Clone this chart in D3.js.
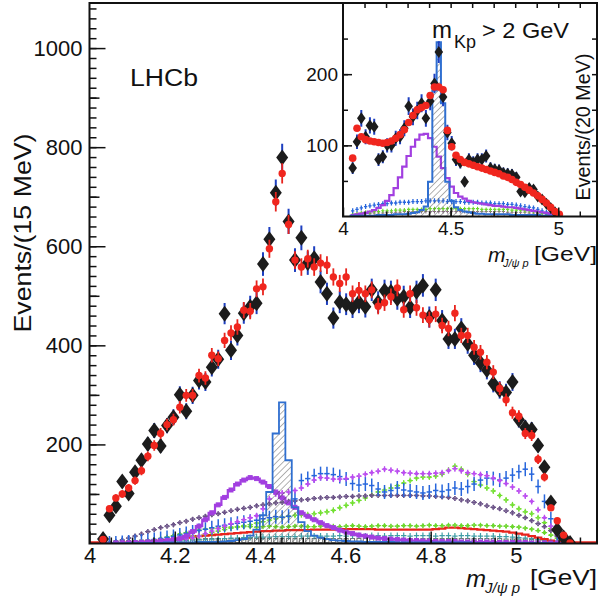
<!DOCTYPE html>
<html><head><meta charset="utf-8">
<script src="https://cdn.jsdelivr.net/npm/d3@7/dist/d3.min.js"></script>
<style>html,body{margin:0;padding:0;background:#fff;} svg{display:block}</style>
</head><body>
<svg id="chart" width="600" height="603"></svg>
<script>
// ---------------- data ----------------
const mainBinEdge0 = 4.0243;   // GeV, left edge of first 15 MeV bin
const mainBinWidth = 0.015;
const mainData = [9,57,75,125,101,144,168,201,228,197,238,255,300,267,299,329,326,356,372,464,390,420,465,478,485,564,614,708,779,650,572,617,566,576,528,504,455,487,483,477,487,478,512,487,510,508,494,498,477,508,521,457,512,450,413,413,434,403,380,365,350,323,310,305,326,250,234,230,198,154,83,28,12,1];
const mainFit = [8,70,92,100,112,127,147,176,198,222,240,250,275,299,299,339,334,380,373,410,425,437,471,469,514,518,595,690,747,644,572,558,575,558,566,562,538,525,538,504,511,504,512,479,486,498,516,472,504,476,461,452,463,440,434,465,420,420,396,386,366,346,313,290,264,257,222,218,170,134,72,46,17,1];
const pc4450 = [0,0,0,0,1,1,1,1,1,1,2,2,2,2,2,3,3,3,3,4,5,7,9,16,28,57,104,222,285,168,73,43,25,16,12,9,7,6,5,4,4,3,3,3,3,3,2,2,2,2,2,2,2,2,2,2,2,2,1,1,1,1,1,1,1,1,1,1,1,1,0,0,0,0];
const pc4380 = [0,0,1,1,1,2,2,3,4,5,6,8,10,15,24,35,48,62,78,93,108,120,128,133,131,124,115,104,92,82,73,62,55,48,42,36,32,27,23,20,17,15,13,11,10,9,8,7,6,6,5,5,4,4,4,4,3,3,3,3,3,3,2,2,2,2,2,1,1,1,1,1,0,0];
const lambdaCross = [0,0,0,1,1,1,2,2,3,4,5,6,8,10,12,15,20,25,30,35,40,44,48,52,56,70,90,100,102,104,107,112,120,128,133,132,130,130,131,134,136,140,143,146,150,148,146,143,142,141,141,141,142,143,147,151,147,143,141,139,137,132,127,121,114,106,96,85,68,52,35,18,6,0];
const blueCross = [0,1,1,2,3,4,5,6,8,10,12,14,17,20,23,26,29,32,35,37,39,41,43,45,47,50,52,54,53,55,90,127,131,137,141,141,139,135,130,121,118,120,117,110,104,107,112,108,106,104,102,104,107,105,108,112,110,115,120,128,132,131,128,132,138,145,150,140,115,85,50,20,6,0];
const purpleCross = [0,2,4,7,11,15,19,24,28,32,35,38,42,45,49,52,55,58,60,63,66,69,71,73,76,78,80,82,83,85,86,88,89,91,92,93,93,94,95,95,96,96,97,97,97,97,97,97,97,97,96,96,95,94,93,91,88,86,83,80,76,73,70,66,62,57,52,46,40,34,26,15,6,0];
const greenUpper = [0,0,1,1,2,2,3,4,5,6,7,8,10,12,14,16,19,22,25,28,31,34,36,38,41,44,47,50,53,55,57,58,58,60,62,64,67,72,77,82,87,92,98,104,108,112,117,122,127,132,134,134,136,140,148,156,150,140,125,118,112,106,97,88,78,70,64,60,52,42,30,16,5,0];
const greenLower = [0,0,1,1,2,3,4,6,8,10,13,16,19,22,25,27,29,30,31,32,33,33,34,34,33,34,35,34,33,34,35,35,34,34,35,36,35,34,35,36,35,34,35,36,36,35,35,36,36,35,36,37,36,36,37,37,36,36,37,37,36,36,35,35,34,33,31,29,26,22,17,11,5,0];
const redLine = [0,0,1,1,2,2,3,4,5,6,7,8,10,12,14,15,16,17,18,19,20,21,22,23,24,25,25,26,26,27,27,27,27,28,28,28,28,29,29,29,29,29,29,28,28,28,28,28,28,28,28,28,29,30,32,32,31,30,29,28,27,26,25,24,22,20,18,15,12,9,6,3,1,0];
const tealCross = [0,0,0,1,1,1,2,2,3,3,4,5,5,6,7,8,8,9,10,10,11,11,12,12,13,13,13,14,14,14,14,15,15,15,15,15,15,16,15,16,16,15,16,16,15,16,16,16,15,16,16,16,15,16,16,15,16,16,15,15,15,15,14,14,13,12,11,10,8,6,4,2,1,0];
const graySquares = [0,0,1,1,2,2,3,3,4,4,4,5,5,5,5,5,6,6,6,6,6,6,6,6,6,6,6,6,6,6,6,6,6,6,6,6,6,6,6,6,6,6,6,6,6,6,6,6,6,6,6,6,6,6,6,6,6,6,6,6,6,6,6,5,5,5,5,4,4,3,2,1,1,0];

const insetBinEdge0 = 4.035;  // GeV, 20 MeV bins
const insetBinWidth = 0.02;
const insetData = [68,105,138,112,128,126,80,84,100,100,110,112,124,155,140,149,159,138,162,187,231,168,118,103,80,76,49,80,76,80,80,85,68,66,65,61,60,59,55,35,34,40,38,28,24,18,12,6];
const insetFit = [82,124,112,108,106,105,104,103,104,106,110,115,122,132,142,150,153,156,170,182,182,178,121,98,86,80,76,74,72,70,68,66,64,62,60,57,55,52,48,45,41,37,33,29,24,19,13,7,3];
const insetPc4380 = [2,3,4,5,7,9,12,16,22,30,40,55,70,85,98,108,115,116,110,98,84,68,54,42,33,28,25,22,20,19,18,17,16,15,15,14,13,13,12,11,10,9,8,7,6,5,3,2,1];
const insetPc4450 = [1,1,1,1,1,1,2,2,2,2,3,3,3,4,5,6,9,14,49,177,245,159,49,22,13,9,7,6,5,4,4,3,3,3,3,3,3,2,2,2,2,2,2,2,1,1,1,1,1];
const insetBlue = [8,10,12,14,15,16,17,18,18,19,19,20,20,20,21,21,21,22,22,22,22,22,21,21,21,21,20,20,20,20,19,19,19,18,18,18,17,17,16,15,14,13,12,10,8,6,4,2,1];
const insetGreen = [3,4,5,6,6,7,7,8,8,8,9,9,9,10,10,10,10,10,11,11,11,11,11,11,11,11,11,11,11,11,10,10,10,10,10,10,10,9,9,9,8,8,7,6,5,4,3,2,1];
const insetGray = [2,3,3,4,4,5,5,5,6,6,6,6,7,7,7,7,7,7,7,7,7,7,7,7,7,7,7,7,7,7,7,7,7,7,7,7,6,6,6,6,6,5,5,4,4,3,2,1,1];

const mainXTicks = [4, 4.2, 4.4, 4.6, 4.8, 5];
const mainYTicks = [200, 400, 600, 800, 1000];
const insetXTicks = [4, 4.5, 5];
const insetYTicks = [100, 200];

// ---------------- drawing ----------------
const FONT = '"Liberation Sans", Arial, Helvetica, sans-serif';
const svg = d3.select('#chart');
svg.append('rect').attr('width', 600).attr('height', 603).attr('fill', '#fff');
const defs = svg.append('defs');
const pat = defs.append('pattern').attr('id', 'hatch').attr('width', 4.5).attr('height', 4.5)
  .attr('patternUnits', 'userSpaceOnUse').attr('patternTransform', 'rotate(45)');
pat.append('line').attr('x1', 0).attr('y1', 0).attr('x2', 0).attr('y2', 4.5)
  .attr('stroke', '#555').attr('stroke-width', 0.9);

const x = d3.scaleLinear().domain([4, 5.19]).range([89.5, 597]);
const y = d3.scaleLinear().domain([0, 1091]).range([543.5, 3]);
const xi = d3.scaleLinear().domain([4, 5.18]).range([343, 597]);
const yi = d3.scaleLinear().domain([0, 300]).range([216.5, 3]);

defs.append('clipPath').attr('id', 'mainClip').append('rect')
  .attr('x', x(4)).attr('y', y(1091)).attr('width', x(5.19) - x(4)).attr('height', y(0) - y(1091));
defs.append('clipPath').attr('id', 'insetClip').append('rect')
  .attr('x', xi(4)).attr('y', yi(300)).attr('width', xi(5.18) - xi(4)).attr('height', yi(0) - yi(300));

function binsOf(vals, e0, w) {
  return vals.map((v, i) => ({ i, v, x0: e0 + w * i, x1: e0 + w * (i + 1), xc: e0 + w * (i + 0.5) }));
}
function stepPts(vals, e0, w) {
  const p = vals.map((v, i) => [e0 + w * i, v]);
  p.push([e0 + w * vals.length, vals[vals.length - 1]]);
  return p;
}
function drawStep(g, vals, e0, w, xs, ys, color, width) {
  g.append('path').attr('d', d3.line().x(d => xs(d[0])).y(d => ys(d[1])).curve(d3.curveStepAfter)(stepPts(vals, e0, w)))
    .attr('fill', 'none').attr('stroke', color).attr('stroke-width', width);
}
function drawHatched(g, vals, e0, w, xs, ys, color, width) {
  const p = [[e0, 0]].concat(stepPts(vals, e0, w)).concat([[e0 + w * vals.length, 0]]);
  g.append('path').attr('d', d3.area().x(d => xs(d[0])).y0(ys(0)).y1(d => ys(d[1])).curve(d3.curveStepAfter)(stepPts(vals, e0, w)))
    .attr('fill', 'url(#hatch)').attr('stroke', 'none');
  g.append('path').attr('d', d3.line().x(d => xs(d[0])).y(d => ys(d[1])).curve(d3.curveStepAfter)(p))
    .attr('fill', 'none').attr('stroke', color).attr('stroke-width', width);
}
function drawCrosses(g, vals, e0, w, xs, ys, color, errPx, marker, sw, msize) {
  const b = binsOf(vals, e0, w).filter(d => d.v > 0);
  const gg = g.append('g').attr('stroke', color).attr('stroke-width', sw || 1.3);
  gg.selectAll('line.h').data(b).join('line').attr('class', 'h')
    .attr('x1', d => xs(d.x0) + 0.5).attr('x2', d => xs(d.x1) - 0.5).attr('y1', d => ys(d.v)).attr('y2', d => ys(d.v));
  gg.selectAll('line.v').data(b).join('line').attr('class', 'v')
    .attr('x1', d => xs(d.xc)).attr('x2', d => xs(d.xc)).attr('y1', d => ys(d.v) - errPx).attr('y2', d => ys(d.v) + errPx);
  if (marker === 'diamond') {
    const m = msize || 2.2;
    gg.selectAll('path').data(b).join('path')
      .attr('d', d => { const cx = xs(d.xc), cy = ys(d.v); return `M${cx},${cy - m}L${cx + m},${cy}L${cx},${cy + m}L${cx - m},${cy}Z`; })
      .attr('fill', 'none').attr('stroke-width', 1);
  }
}
function drawSquares(g, vals, e0, w, xs, ys, color, size, filled) {
  const b = binsOf(vals, e0, w).filter(d => d.v > 0);
  g.append('g').selectAll('rect').data(b).join('rect')
    .attr('x', d => xs(d.xc) - size / 2).attr('y', d => ys(d.v) - size / 2)
    .attr('width', size).attr('height', size)
    .attr('fill', filled ? color : '#fff').attr('stroke', color).attr('stroke-width', 1);
}
function drawData(g, vals, e0, w, xs, ys, hw, hh, errColor) {
  const b = binsOf(vals, e0, w).filter(d => d.v > 0);
  g.append('g').selectAll('line').data(b).join('line')
    .attr('x1', d => xs(d.xc)).attr('x2', d => xs(d.xc))
    .attr('y1', d => ys(d.v + Math.sqrt(d.v))).attr('y2', d => ys(Math.max(0, d.v - Math.sqrt(d.v))))
    .attr('stroke', errColor).attr('stroke-width', 2);
  g.append('g').selectAll('path').data(b).join('path')
    .attr('d', d => { const cx = xs(d.xc), cy = ys(d.v); return `M${cx},${cy - hh}L${cx + hw},${cy}L${cx},${cy + hh}L${cx - hw},${cy}Z`; })
    .attr('fill', '#1c1c1c');
}
function drawFit(g, vals, e0, w, xs, ys, r, errScale) {
  const b = binsOf(vals, e0, w).filter(d => d.v > 0);
  g.append('g').selectAll('line').data(b).join('line')
    .attr('x1', d => xs(d.xc)).attr('x2', d => xs(d.xc))
    .attr('y1', d => ys(d.v + errScale * Math.sqrt(d.v))).attr('y2', d => ys(Math.max(0, d.v - errScale * Math.sqrt(d.v))))
    .attr('stroke', '#e8231c').attr('stroke-width', 1.8);
  g.append('g').selectAll('circle').data(b).join('circle')
    .attr('cx', d => xs(d.xc)).attr('cy', d => ys(d.v)).attr('r', r).attr('fill', '#f0261e');
}

// ---------- main plot ----------
const main = svg.append('g').attr('clip-path', 'url(#mainClip)');
const mainEnd = mainBinEdge0 + mainBinWidth * mainData.length;
main.append('line').attr('x1', x(4)).attr('x2', x(mainBinEdge0)).attr('y1', y(0) - 1).attr('y2', y(0) - 1).attr('stroke', '#e8231c').attr('stroke-width', 2.5);
main.append('line').attr('x1', x(mainEnd)).attr('x2', x(5.19)).attr('y1', y(0) - 1).attr('y2', y(0) - 1).attr('stroke', '#e8231c').attr('stroke-width', 2.5);

drawSquares(main, graySquares, mainBinEdge0, mainBinWidth, x, y, '#707070', 4, false);
drawCrosses(main, tealCross, mainBinEdge0, mainBinWidth, x, y, '#3f9da6', 3, 'none', 1.2);
drawStep(main, redLine, mainBinEdge0, mainBinWidth, x, y, '#e8231c', 2.2);
drawCrosses(main, greenLower, mainBinEdge0, mainBinWidth, x, y, '#6ad62a', 2.5, 'diamond', 1.2, 1.8);
drawCrosses(main, greenUpper, mainBinEdge0, mainBinWidth, x, y, '#72e030', 3, 'diamond', 1.2, 1.8);
drawCrosses(main, purpleCross, mainBinEdge0, mainBinWidth, x, y, '#6c5488', 2.5, 'diamond', 1.3, 2.2);
drawCrosses(main, blueCross, mainBinEdge0, mainBinWidth, x, y, '#2766dc', 7, 'none', 1.5);
drawCrosses(main, lambdaCross, mainBinEdge0, mainBinWidth, x, y, '#bb4cf0', 3, 'diamond', 1.3, 1.8);
drawStep(main, pc4380, mainBinEdge0, mainBinWidth, x, y, '#a23fe0', 2.2);
drawSquares(main, pc4380, mainBinEdge0, mainBinWidth, x, y, '#a23fe0', 4, true);
drawHatched(main, pc4450, mainBinEdge0, mainBinWidth, x, y, '#2f6fd0', 1.8);
drawData(main, mainData, mainBinEdge0, mainBinWidth, x, y, 6, 8, '#1d3fc0');
drawFit(main, mainFit, mainBinEdge0, mainBinWidth, x, y, 3.7, 0.75);

// main axes
function styleAxis(g, size) {
  g.select('.domain').remove();
  g.selectAll('.tick line').attr('stroke', '#111').attr('stroke-width', 1.5);
  g.selectAll('.tick text').attr('font-family', FONT).attr('font-size', size).attr('fill', '#111');
}
const gxMinor = svg.append('g').attr('transform', `translate(0,${y(0)})`)
  .call(d3.axisBottom(x).tickValues(d3.range(4.05, 5.19, 0.05)).tickSize(-6).tickSizeOuter(0).tickFormat(''));
styleAxis(gxMinor, 0);
const gx = svg.append('g').attr('transform', `translate(0,${y(0)})`)
  .call(d3.axisBottom(x).tickValues(mainXTicks).tickSize(-12).tickSizeOuter(0).tickPadding(4).tickFormat(d => String(d)));
styleAxis(gx, 22);
const gyMinor = svg.append('g').attr('transform', `translate(${x(4)},0)`)
  .call(d3.axisLeft(y).tickValues(d3.range(20, 1091, 20)).tickSize(-7).tickSizeOuter(0).tickFormat(''));
styleAxis(gyMinor, 0);
const gyMid = svg.append('g').attr('transform', `translate(${x(4)},0)`)
  .call(d3.axisLeft(y).tickValues(d3.range(100, 1091, 200)).tickSize(-10).tickSizeOuter(0).tickFormat(''));
styleAxis(gyMid, 0);
const gy = svg.append('g').attr('transform', `translate(${x(4)},0)`)
  .call(d3.axisLeft(y).tickValues(mainYTicks).tickSize(-16).tickSizeOuter(0).tickPadding(7).tickFormat(d => String(d)));
styleAxis(gy, 22);

svg.append('rect').attr('x', x(4)).attr('y', y(1091)).attr('width', x(5.19) - x(4)).attr('height', y(0) - y(1091))
  .attr('fill', 'none').attr('stroke', '#111').attr('stroke-width', 2);

// main texts
svg.append('text').attr('x', 130).attr('y', 86).attr('font-family', FONT).attr('font-size', 23)
  .attr('textLength', 68).attr('lengthAdjust', 'spacingAndGlyphs').attr('fill', '#111').text('LHCb');
svg.append('text').attr('transform', 'translate(31,233) rotate(-90)').attr('text-anchor', 'middle')
  .attr('font-family', FONT).attr('font-size', 24).attr('textLength', 199).attr('lengthAdjust', 'spacingAndGlyphs')
  .attr('fill', '#111').text('Events/(15 MeV)');
svg.append('text').attr('x', 466).attr('y', 587).attr('font-family', FONT).attr('font-size', 24).attr('font-style', 'italic').attr('fill', '#111').text('m');
svg.append('text').attr('x', 485).attr('y', 593).attr('font-family', FONT).attr('font-size', 15).attr('font-style', 'italic').attr('fill', '#111').text('J/ψ p');
svg.append('text').attr('x', 530).attr('y', 585).attr('font-family', FONT).attr('font-size', 22)
  .attr('textLength', 67).attr('lengthAdjust', 'spacingAndGlyphs').attr('fill', '#111').text('[GeV]');

// ---------- inset ----------
svg.append('rect').attr('x', xi(4)).attr('y', yi(300)).attr('width', xi(5.18) - xi(4)).attr('height', yi(0) - yi(300)).attr('fill', '#fff');
const inset = svg.append('g').attr('clip-path', 'url(#insetClip)');
drawCrosses(inset, insetGray, insetBinEdge0, insetBinWidth, xi, yi, '#8a7080', 2, 'none', 1.1);
drawCrosses(inset, insetGreen, insetBinEdge0, insetBinWidth, xi, yi, '#6ad62a', 2, 'none', 1.1);
drawCrosses(inset, insetBlue, insetBinEdge0, insetBinWidth, xi, yi, '#2766dc', 2.5, 'none', 1.3);
drawStep(inset, insetPc4380, insetBinEdge0, insetBinWidth, xi, yi, '#a23fe0', 2.2);
drawHatched(inset, insetPc4450, insetBinEdge0, insetBinWidth, xi, yi, '#2f6fd0', 2);
drawData(inset, insetData, insetBinEdge0, insetBinWidth, xi, yi, 4.3, 6, '#1d3fc0');
drawFit(inset, insetFit, insetBinEdge0, insetBinWidth, xi, yi, 3.8, 0);

const gixMinor = svg.append('g').attr('transform', `translate(0,${yi(0)})`)
  .call(d3.axisBottom(xi).tickValues(d3.range(4.1, 5.18, 0.1)).tickSize(-5).tickSizeOuter(0).tickFormat(''));
styleAxis(gixMinor, 0);
const gix = svg.append('g').attr('transform', `translate(0,${yi(0)})`)
  .call(d3.axisBottom(xi).tickValues(insetXTicks).tickSize(-9).tickSizeOuter(0).tickPadding(5).tickFormat(d => String(d)));
styleAxis(gix, 19);
const gixTop = svg.append('g').attr('transform', `translate(0,${yi(300)})`)
  .call(d3.axisTop(xi).tickValues(d3.range(4.1, 5.18, 0.1)).tickSize(-5).tickSizeOuter(0).tickFormat(''));
styleAxis(gixTop, 0);
const giyMinor = svg.append('g').attr('transform', `translate(${xi(4)},0)`)
  .call(d3.axisLeft(yi).tickValues(d3.range(50, 300, 50)).tickSize(-5).tickSizeOuter(0).tickFormat(''));
styleAxis(giyMinor, 0);
const giy = svg.append('g').attr('transform', `translate(${xi(4)},0)`)
  .call(d3.axisLeft(yi).tickValues(insetYTicks).tickSize(-9).tickSizeOuter(0).tickPadding(5).tickFormat(d => String(d)));
styleAxis(giy, 19);
const giyRight = svg.append('g').attr('transform', `translate(${xi(5.18)},0)`)
  .call(d3.axisRight(yi).tickValues(d3.range(50, 300, 50)).tickSize(-5).tickSizeOuter(0).tickFormat(''));
styleAxis(giyRight, 0);
svg.append('rect').attr('x', xi(4)).attr('y', yi(300)).attr('width', xi(5.18) - xi(4)).attr('height', yi(0) - yi(300))
  .attr('fill', 'none').attr('stroke', '#111').attr('stroke-width', 2);

// inset texts
svg.append('text').attr('x', 432).attr('y', 38).attr('font-family', FONT).attr('font-size', 24).attr('fill', '#111').text('m');
svg.append('text').attr('x', 454).attr('y', 48).attr('font-family', FONT).attr('font-size', 18).attr('fill', '#111').text('Kp');
svg.append('text').attr('x', 482).attr('y', 38).attr('font-family', FONT).attr('font-size', 22)
  .attr('textLength', 87).attr('lengthAdjust', 'spacingAndGlyphs').attr('fill', '#111').text('> 2 GeV');
svg.append('text').attr('transform', 'translate(590,127) rotate(-90)').attr('text-anchor', 'middle')
  .attr('font-family', FONT).attr('font-size', 20).attr('textLength', 147).attr('lengthAdjust', 'spacingAndGlyphs')
  .attr('fill', '#111').text('Events/(20 MeV)');
svg.append('text').attr('x', 488).attr('y', 262).attr('font-family', FONT).attr('font-size', 21).attr('font-style', 'italic').attr('fill', '#111').text('m');
svg.append('text').attr('x', 503).attr('y', 267).attr('font-family', FONT).attr('font-size', 11).attr('font-style', 'italic').attr('fill', '#111').text('J/ψ p');
svg.append('text').attr('x', 534).attr('y', 261).attr('font-family', FONT).attr('font-size', 20)
  .attr('textLength', 63).attr('lengthAdjust', 'spacingAndGlyphs').attr('fill', '#111').text('[GeV]');
</script>
</body></html>
